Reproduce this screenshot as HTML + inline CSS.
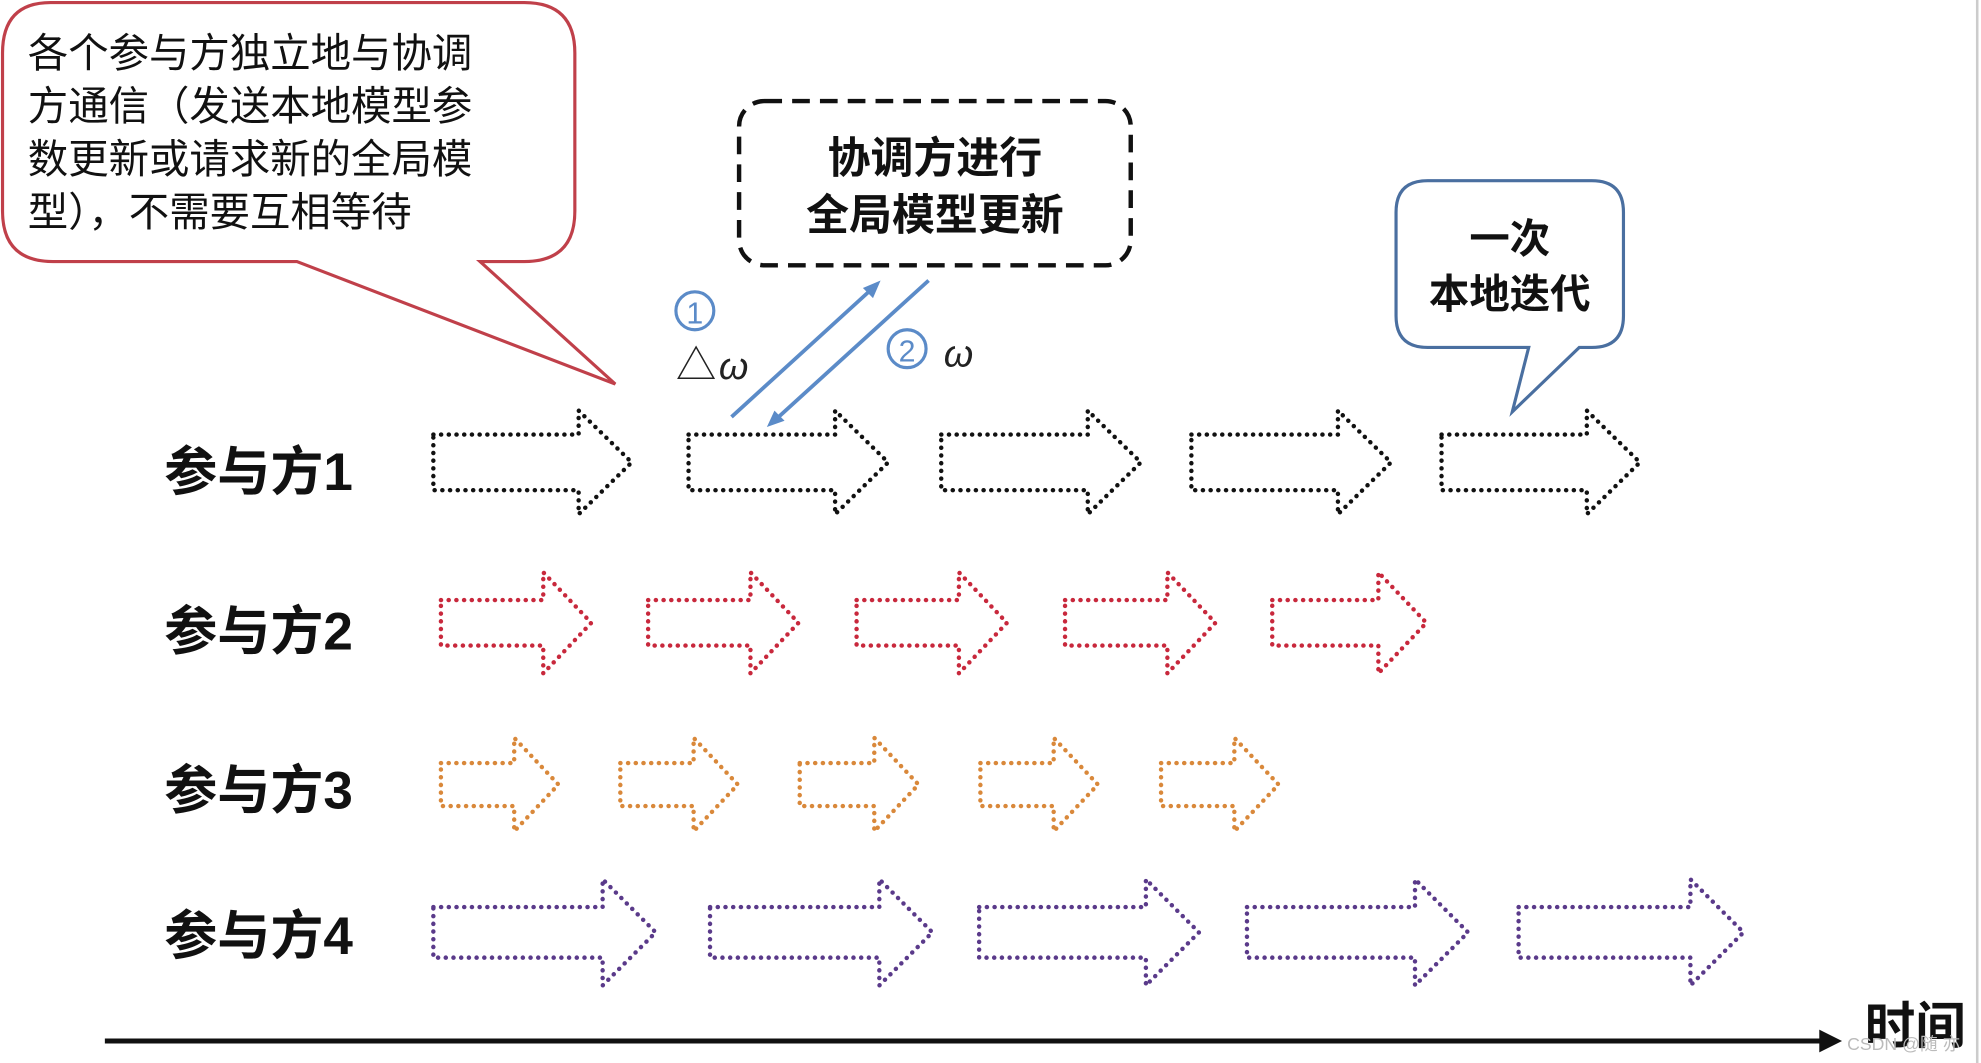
<!DOCTYPE html>
<html><head><meta charset="utf-8"><style>
html,body{margin:0;padding:0;background:#fff;}
svg{display:block;}
text{font-family:"Liberation Sans","Noto Sans CJK SC",sans-serif;}
</style></head><body>
<svg width="1981" height="1063" viewBox="0 0 1568 841.4" preserveAspectRatio="none" xmlns="http://www.w3.org/2000/svg">
<rect width="1568" height="842" fill="#fff"/>
<line x1="1565" y1="0" x2="1565" y2="842" stroke="#ccc" stroke-width="2"/>
<!-- red callout -->
<path d="M40 2 H415 Q455 2 455 42 V167 Q455 207 415 207 H380 L487 304 L235 207 H42 Q2 207 2 167 V42 Q2 2 40 2 Z" fill="#fff" stroke="#c0404a" stroke-width="2.5"/>
<g font-size="32" fill="#111">
<text x="22" y="53">各个参与方独立地与协调</text>
<text x="22" y="95">方通信（发送本地模型参</text>
<text x="22" y="137">数更新或请求新的全局模</text>
<text x="22" y="179">型），不需要互相等待</text>
</g>
<!-- dashed box -->
<rect x="585" y="80" width="310" height="130" rx="20" fill="#fff" stroke="#111" stroke-width="3.5" stroke-dasharray="14 8"/>
<g font-size="34" font-weight="bold" fill="#111" text-anchor="middle">
<text x="740" y="137">协调方进行</text>
<text x="740" y="182">全局模型更新</text>
</g>
<!-- blue callout -->
<path d="M1130 143 H1260 Q1285 143 1285 168 V250 Q1285 275 1260 275 H1250 L1197 326 L1210 275 H1130 Q1105 275 1105 250 V168 Q1105 143 1130 143 Z" fill="#fff" stroke="#4a6fa0" stroke-width="2.5"/>
<g font-size="32" font-weight="bold" fill="#111" text-anchor="middle">
<text x="1195" y="200">一次</text>
<text x="1195" y="244">本地迭代</text>
</g>
<!-- blue arrows -->
<g stroke="#5b8bc8" stroke-width="3" fill="#5b8bc8">
<line x1="579" y1="330" x2="692" y2="227"/>
<path d="M697 222 L683 228 L691 236 Z" stroke="none"/>
<line x1="735" y1="222" x2="613" y2="333"/>
<path d="M607 338 L613 325 L621 333 Z" stroke="none"/>
</g>
<circle cx="550" cy="246" r="15" fill="none" stroke="#5b8bc8" stroke-width="2.5"/>
<text x="550" y="256" font-size="24" fill="#5b8bc8" text-anchor="middle">1</text>
<circle cx="718" cy="276" r="15" fill="none" stroke="#5b8bc8" stroke-width="2.5"/>
<text x="718" y="286" font-size="24" fill="#5b8bc8" text-anchor="middle">2</text>
<text x="535" y="300" font-size="32" fill="#222">△</text>
<text x="569" y="300" font-size="30" font-style="italic" fill="#222" font-family="Liberation Serif,serif">ω</text>
<text x="747" y="290" font-size="30" font-style="italic" fill="#222" font-family="Liberation Serif,serif">ω</text>
<!-- labels -->
<g font-size="42" font-weight="bold" fill="#111">
<text x="130" y="388">参与方1</text>
<text x="130" y="514">参与方2</text>
<text x="130" y="640">参与方3</text>
<text x="130" y="755">参与方4</text>
</g>
<!-- arrows -->
<g fill="none" stroke-width="3.5" stroke-linecap="round" stroke-dasharray="0.1 6">
<g stroke="#111">
<path d="M343 344 H458 V325 L500 366 L458 407 V388 H343 Z"/>
<path d="M545 344 H661 V325 L703 366 L661 407 V388 H545 Z"/>
<path d="M745 344 H861 V325 L903 366 L861 407 V388 H745 Z"/>
<path d="M943 344 H1059 V325 L1101 366 L1059 407 V388 H943 Z"/>
<path d="M1141 344 H1256 V325 L1298 366 L1256 407 V388 H1141 Z"/>
</g>
<g stroke="#c8283c">
<path d="M349 475 H430 V453 L468 493 L430 533 V511 H349 Z"/>
<path d="M513 475 H594 V453 L632 493 L594 533 V511 H513 Z"/>
<path d="M678 475 H759 V453 L797 493 L759 533 V511 H678 Z"/>
<path d="M843 475 H924 V453 L962 493 L924 533 V511 H843 Z"/>
<path d="M1007 475 H1091 V453 L1129 493 L1091 533 V511 H1007 Z"/>
</g>
<g stroke="#d9883a">
<path d="M349 604 H407 V584 L442 621 L407 658 V638 H349 Z"/>
<path d="M491 604 H549 V584 L584 621 L549 658 V638 H491 Z"/>
<path d="M633 604 H692 V584 L727 621 L692 658 V638 H633 Z"/>
<path d="M776 604 H834 V584 L869 621 L834 658 V638 H776 Z"/>
<path d="M919 604 H977 V584 L1012 621 L977 658 V638 H919 Z"/>
</g>
<g stroke="#5a3a8a">
<path d="M343 718 H477 V696 L519 738 L477 780 V758 H343 Z"/>
<path d="M562 718 H696 V696 L738 738 L696 780 V758 H562 Z"/>
<path d="M775 718 H907 V696 L949 738 L907 780 V758 H775 Z"/>
<path d="M987 718 H1120 V696 L1162 738 L1120 780 V758 H987 Z"/>
<path d="M1202 718 H1338 V696 L1380 738 L1338 780 V758 H1202 Z"/>
</g>
</g>
<!-- time axis -->
<line x1="83" y1="824" x2="1442" y2="824" stroke="#111" stroke-width="4"/>
<path d="M1458 824 L1440 815 L1440 833 Z" fill="#111"/>
<text x="1476" y="826" font-size="40" font-weight="bold" fill="#111">时间</text>
<text x="1462" y="831" font-size="14" fill="#bbb">CSDN @随 亦</text>
</svg>
</body></html>
